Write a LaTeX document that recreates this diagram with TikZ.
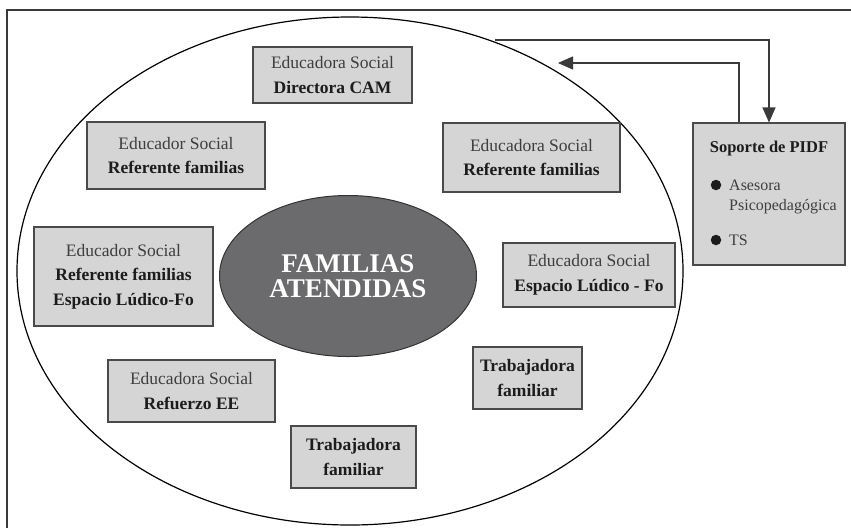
\documentclass[tikz,border=0pt]{standalone}
\usepackage{fontspec}
\setmainfont{Liberation Serif}
\usetikzlibrary{shapes.geometric,arrows.meta}
\definecolor{boxfill}{HTML}{D5D5D5}
\definecolor{boxborder}{HTML}{4A4A4A}
\definecolor{txtgray}{HTML}{3E3E3E}
\definecolor{txtdark}{HTML}{1C1C1C}
\definecolor{coreFill}{HTML}{6B6B6D}
\definecolor{lineCol}{HTML}{3A3A3A}
\newcommand\rtxt[1]{\textcolor{txtgray}{#1}}
\newcommand\btxt[1]{\textcolor{txtdark}{\bfseries #1}}
\tikzset{
  rolebox/.style={draw=boxborder, fill=boxfill, line width=1.1pt, inner sep=0pt,
    align=center, font=\fontsize{17.5}{24.5}\selectfont},
  conn/.style={draw=lineCol, line width=1.1pt},
  bigtip/.style={-{Triangle[length=15pt,width=13pt]}},
  bul/.style={circle, fill=txtdark, inner sep=0pt, minimum size=10.5pt},
  soptxt/.style={anchor=west, inner sep=0pt, font=\fontsize{16}{18}\selectfont}
}
\begin{document}
\begin{tikzpicture}[x=1pt,y=-1pt]
\useasboundingbox (0,0) rectangle (851,528);
% frame (partially visible)
\draw[lineCol, line width=1.1pt] (7,528) -- (7,10) -- (851,10);
% outer ellipse
\draw[black, line width=1.2pt] (350,271) ellipse [x radius=333, y radius=254];
% centre
\node[ellipse, draw=black!80, fill=coreFill, line width=1pt, minimum width=257pt, minimum height=161pt,
  align=center, text=white, font=\fontsize{27}{25}\selectfont\bfseries] (core) at (348,276) {FAMILIAS\\ATENDIDAS};
% role boxes
\node[rolebox, minimum width=159pt, minimum height=56pt] (dir) at (332.5,75) {\rtxt{Educadora Social}\\\btxt{Directora CAM}};
\node[rolebox, minimum width=178pt, minimum height=67pt] (refL) at (176,155.5) {\rtxt{Educador Social}\\\btxt{Referente familias}};
\node[rolebox, minimum width=179pt, minimum height=99pt] (espL) at (123.5,276.5) {\rtxt{Educador Social}\\\btxt{Referente familias}\\\btxt{Espacio Lúdico-Fo}};
\node[rolebox, minimum width=177pt, minimum height=69pt] (refR) at (531.5,157.5) {\rtxt{Educadora Social}\\\btxt{Referente familias}};
\node[rolebox, minimum width=172pt, minimum height=64pt] (espR) at (589,275) {\rtxt{Educadora Social}\\\btxt{Espacio Lúdico - Fo}};
\node[rolebox, minimum width=109pt, minimum height=62pt] (trabR) at (527.5,378) {\btxt{Trabajadora}\\\btxt{familiar}};
\node[rolebox, minimum width=167pt, minimum height=62pt] (refu) at (191.5,391) {\rtxt{Educadora Social}\\\btxt{Refuerzo EE}};
\node[rolebox, minimum width=125pt, minimum height=62pt] (trabB) at (353.5,457) {\btxt{Trabajadora}\\\btxt{familiar}};
% support box
\node[rolebox, minimum width=152pt, minimum height=142pt] (sop) at (769,194) {};
\node[inner sep=0pt, font=\fontsize{16.5}{18}\selectfont] (soph) at (769,149) {\btxt{Soporte de PIDF}};
\node[bul] (b1) at (716,185) {};
\node[soptxt] (t1) at (729,185) {\rtxt{Asesora}};
\node[soptxt] (t2) at (729,207) {\rtxt{Psicopedagógica}};
\node[bul] (b2) at (716,240) {};
\node[soptxt] (t3) at (729,240) {\rtxt{TS}};
% connectors
\coordinate (startOut) at (495,40);
\coordinate (endIn) at (558,63);
\draw[conn, bigtip] (startOut) -- (sop.north |- startOut) -- (sop.north);
\draw[conn, bigtip] ([xshift=-30pt]sop.north) -- ([xshift=-30pt]sop.north |- endIn) -- (endIn);
\end{tikzpicture}
\end{document}
